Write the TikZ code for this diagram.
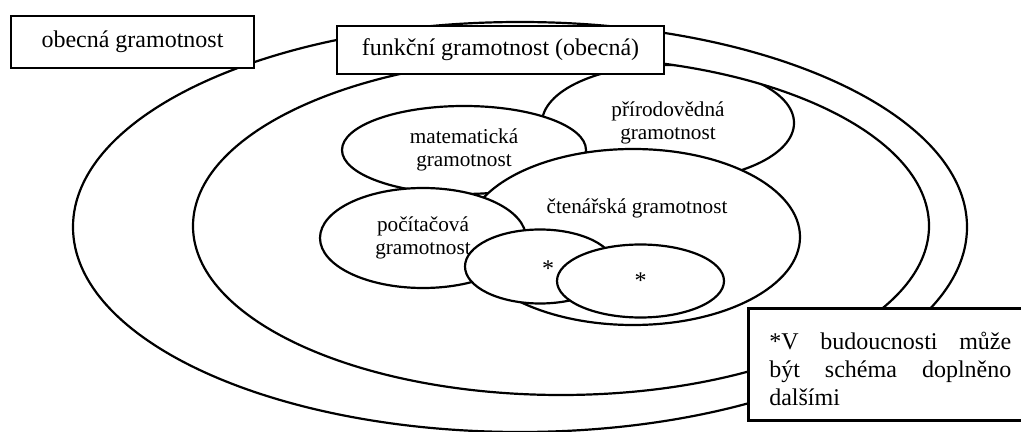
\documentclass[tikz,border=0pt]{standalone}
\usepackage{fontspec}
\setmainfont{Liberation Serif}
\usetikzlibrary{shapes.geometric}
\begin{document}
\begin{tikzpicture}[x=0.5pt,y=-0.5pt,
    ring/.style={line width=1.1pt},
    blob/.style={ellipse,draw,fill=white,line width=1.1pt,inner sep=0pt,align=center,
      font=\fontsize{10.6}{11.5}\selectfont},
    lbl/.style={inner sep=0pt,font=\fontsize{10.6}{11.5}\selectfont},
    tag/.style={rectangle,draw,fill=white,line width=1.3pt,inner sep=0pt,
      font=\fontsize{12}{14}\selectfont}]
  \useasboundingbox (0,0) rectangle (1021,432);
  \draw[ring] (520,227) ellipse [x radius=447,y radius=205];
  \begin{scope}
    \clip (561,226) ellipse [x radius=368,y radius=169];
    \node[blob,minimum width=126pt,minimum height=58pt] (prir) at (668,123)
      {přírodovědná\\gramotnost};
  \end{scope}
  \draw[ring] (561,226) ellipse [x radius=368,y radius=169];
  \node[blob,minimum width=122pt,minimum height=44pt] (mat) at (464,150)
    {matematická\\gramotnost};
  \node[blob,minimum width=167pt,minimum height=88pt] (cten) at (633,237) {};
  \node[lbl] (ctenlbl) at (637,208) {čtenářská gramotnost};
  \node[blob,minimum width=103pt,minimum height=50pt] (pocit) at (423,238)
    {počítačová\\gramotnost};
  \node[blob,minimum width=75pt,minimum height=37pt] (hvezda1) at (540,266.5) {};
  \node[lbl,font=\fontsize{12}{14}\selectfont] (hvezda1lbl) at (548,269) {*};
  \node[blob,minimum width=83.5pt,minimum height=36.5pt,
    font=\fontsize{12}{14}\selectfont] (hvezda2) at (640.5,281) {*};
  \node[tag,minimum width=121.5pt,minimum height=26pt] (obecna) at (132.5,42)
    {obecná gramotnost};
  \node[tag,minimum width=163.5pt,minimum height=24pt] (funkcni) at (500.5,50)
    {funkční gramotnost (obecná)};
  \node[tag,anchor=north west,text width=121pt,inner xsep=10.5pt,
    minimum height=56pt,align=left] (pozn) at (747,307)
    {\rule{0pt}{13pt}*V\hfill budoucnosti\hfill může\\být\hfill schéma\hfill doplněno\\dalšími};
\end{tikzpicture}
\end{document}
